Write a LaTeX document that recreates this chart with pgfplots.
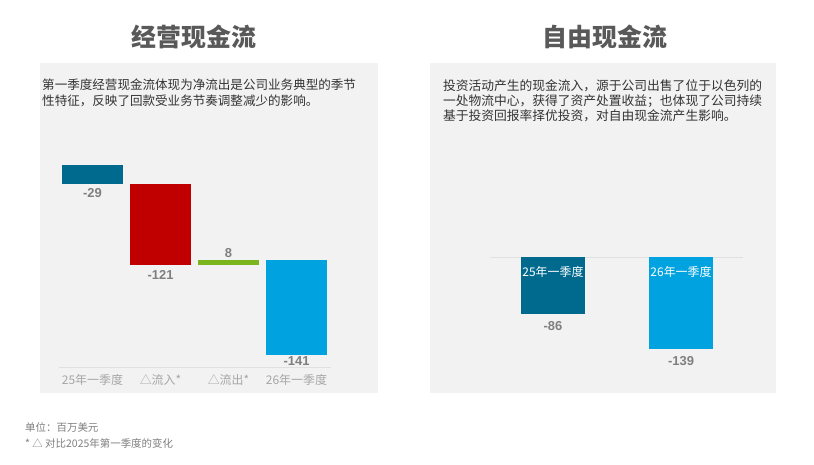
\documentclass[border=0pt]{standalone}
\usepackage{pgfplots}
\pgfplotsset{compat=1.18}
\usepackage{fontspec}
\setmainfont{Liberation Sans}
\newfontfamily\cjk{Noto Sans CJK SC}
\definecolor{cPanel}{HTML}{F2F2F2}
\definecolor{cTitle}{HTML}{595959}
\definecolor{cText}{HTML}{333333}
\definecolor{cFoot}{HTML}{808080}
\definecolor{cTick}{HTML}{A6A6A6}
\definecolor{cNum}{HTML}{7F7F7F}
\definecolor{cLine}{HTML}{E0E0E0}
\definecolor{cTeal}{HTML}{006A8E}
\definecolor{cRed}{HTML}{C00000}
\definecolor{cGreen}{HTML}{7AB51D}
\definecolor{cBlue}{HTML}{00A2E0}
\begin{document}
\begin{tikzpicture}[x=1bp,y=1bp,
  lbl/.style={font=\bfseries\fontsize{13}{15}\selectfont, text=cNum, inner sep=0pt, anchor=center},
  inb/.style={font=\cjk\fontsize{12}{14}\selectfont, text=white, inner sep=0pt, anchor=center}]
\path[fill=white] (0,0) rectangle (814,465);
\fill[cPanel] (40,72) rectangle (378,402);
\fill[cPanel] (430,72) rectangle (776,402);
\node[font=\cjk\bfseries\fontsize{25}{30}\selectfont, text=cTitle] at (194,428) {经营现金流};
\node[font=\cjk\bfseries\fontsize{25}{30}\selectfont, text=cTitle] at (605,428) {自由现金流};
\node[anchor=north west, inner sep=0pt, align=left, font=\cjk\fontsize{12.6}{15.5}\selectfont, text=cText] at (42,386)
  {第一季度经营现金流体现为净流出是公司业务典型的季节\\性特征，反映了回款受业务节奏调整减少的影响。};
\node[anchor=north west, inner sep=0pt, align=left, font=\cjk\fontsize{12.8}{15.5}\selectfont, text=cText] at (443,386)
  {投资活动产生的现金流入，源于公司出售了位于以色列的\\一处物流中心，获得了资产处置收益；也体现了公司持续\\基于投资回报率择优投资，对自由现金流产生影响。};
\node[anchor=west, inner sep=0pt, font=\cjk\fontsize{10.5}{12}\selectfont, text=cFoot] at (25,37) {单位：百万美元};
\node[anchor=west, inner sep=0pt, font=\cjk\fontsize{10.5}{12}\selectfont, text=cFoot] at (25,22) {* △ 对比2025年第一季度的变化};

\begin{axis}[at={(58.5bp,98bp)}, anchor=south west, scale only axis,
  width=272bp, height=227bp,
  xmin=-0.5, xmax=3.5, ymin=-301.5, ymax=37.3,
  ybar stacked, bar width=61bp,
  axis x line*=bottom, axis y line=none,
  x axis line style={draw=cLine, -},
  xtick={0,1,2,3}, xticklabels={25年一季度, △流入*, △流出*, 26年一季度},
  major tick length=0pt, ytick=\empty,
  xticklabel style={font=\cjk\fontsize{12}{14}\selectfont, text=cTick, yshift=-4bp},
  clip=false]
\addplot[draw=none, fill=none] coordinates {(0,0) (1,-29) (2,-142) (3,-142)};
\addplot[fill=cTeal, draw=none] coordinates {(0,-29) (1,0) (2,0) (3,0)};
\addplot[fill=cRed, draw=none] coordinates {(0,0) (1,-121) (2,0) (3,0)};
\addplot[fill=cGreen, draw=none] coordinates {(0,0) (1,0) (2,-8) (3,0)};
\addplot[fill=cBlue, draw=none] coordinates {(0,0) (1,0) (2,0) (3,-141)};
\node[lbl, yshift=-9bp] at (axis cs:0,-29) {-29};
\node[lbl, yshift=-9bp] at (axis cs:1,-150) {-121};
\node[lbl, yshift=7bp] at (axis cs:2,-142) {8};
\node[lbl, yshift=-6bp] at (axis cs:3,-283) {-141};
\end{axis}

\begin{axis}[at={(490bp,95bp)}, anchor=south west, scale only axis,
  width=253bp, height=130bp,
  xmin=-0.492, xmax=1.484, ymin=-171.2, ymax=25.76,
  hide axis, clip=false,
  ybar, bar width=64bp, bar shift=0pt]
\draw[cLine] (axis cs:-0.492,0) -- (axis cs:1.484,0);
\addplot[fill=cTeal, draw=none] coordinates {(0,-86)};
\addplot[fill=cBlue, draw=none] coordinates {(1,-139)};
\node[lbl, yshift=-12bp] at (axis cs:0,-86) {-86};
\node[lbl, yshift=-12bp] at (axis cs:1,-139) {-139};
\node[inb, yshift=-15bp] at (axis cs:0,0) {25年一季度};
\node[inb, yshift=-15bp] at (axis cs:1,0) {26年一季度};
\end{axis}
\end{tikzpicture}
\end{document}
